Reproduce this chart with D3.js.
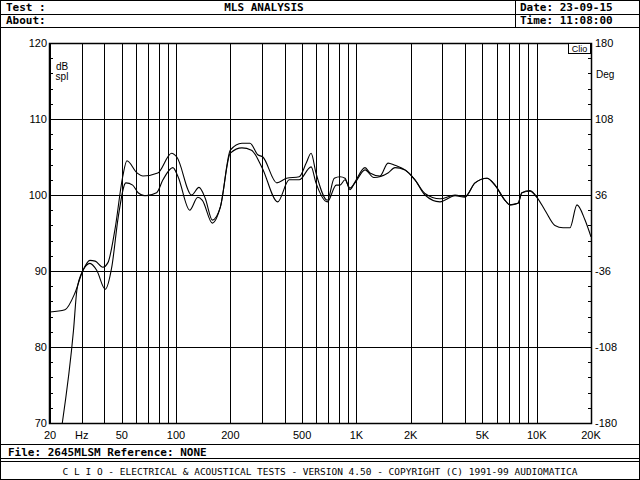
<!DOCTYPE html>
<html><head><meta charset="utf-8">
<script src="https://cdn.jsdelivr.net/npm/d3@7"></script>
<style>body{margin:0;background:#fff}</style>
</head><body><svg id="c" width="640" height="480"></svg>
<script>
const freqsA=[20,24.2,27.5,30.5,33.3,35.6,39.3,41.9,45.8,50.6,53.4,60.8,65.5,79.2,94.5,101,122,134,145,159,176,200,232,257,284,303,362,410,482,527,561,597,690,754,811,865,921,982,1117,1189,1352,1497,1637,1860,2113,2400,2908,3524,4000,4550,5300,5870,6670,7110,7870,8280,9180,10020,11110,12620,13990,15290,16720,18530,20000];
const dbA=[84.6,84.9,87.1,90.1,91.4,91.3,90.5,91.1,95.4,102.4,104.5,102.9,102.5,102.9,105.5,105,100,101,99.6,96.7,98.4,105.9,106.8,106.8,105.3,105,101.6,102.2,102.4,104.2,105.5,102.9,99.3,102.2,102.4,102.2,100.7,101.7,103.6,102.9,102.5,104.2,103.9,103.3,102,100,99.1,99.9,99.7,101.6,102.2,101.3,99.3,98.7,98.9,100.3,100.5,99.7,98,96,95.7,95.7,98.7,96.7,94.5];
const freqsB=[23.4,27,28.2,30.5,33.3,36.3,40.5,44,47.8,52.7,57.5,61.6,67.3,78,84.6,96,102.6,119,132,140,159,176,200,232,262,300,366,424,482,561,597,690,773,811,865,921,982,1117,1250,1497,1637,1860,2113,2400,2908,3524,4000,4550,5300,5870,6670,7110,7870,8280,9180,10020];
const dbB=[70,82.2,87.5,90.1,91,90.1,87.6,90.5,97.1,101.6,101.3,100.3,99.9,100.3,102,103.6,102.4,98,99.7,99.3,96.3,98.4,105.5,106.2,105.9,103.6,99.1,102,102,103.7,101.6,99.1,101.3,101.3,102,100.9,101.6,103.3,102.3,102.9,103.6,103.3,102,100.2,99.5,100,99.8,101.6,102.2,101.3,99.3,98.7,98.9,100.3,100.6,99.7];
const xTickVals=[20,30,50,100,200,500,1000,2000,5000,10000,20000];
const xTickLabels=["20","Hz","50","100","200","500","1K","2K","5K","10K","20K"];
const gridFreqs=[20,30,40,50,60,70,80,90,100,200,300,400,500,600,700,800,900,1000,2000,3000,4000,5000,6000,7000,8000,9000,10000,20000];
const dbTicks=[120,110,100,90,80,70];
const degTicks=[180,108,36,-36,-108,-180];

const svg=d3.select("#c");
const x=d3.scaleLog().domain([20,20000]).range([50,591]);
const y=d3.scaleLinear().domain([70,120]).range([423,43]);
const yd=d3.scaleLinear().domain([-180,180]).range([423,43]);
const mono="DejaVu Sans Mono, monospace", sf="Liberation Sans, sans-serif";

svg.append("rect").attr("x",0.5).attr("y",0.5).attr("width",639).attr("height",479).attr("fill","none").attr("stroke","#000");
const ln=(x1,y1,x2,y2)=>svg.append("line").attr("x1",x1).attr("y1",y1).attr("x2",x2).attr("y2",y2).attr("stroke","#000");
ln(0,14.5,640,14.5);ln(0,27.5,640,27.5);ln(515.5,0,515.5,27);
ln(0,444.5,640,444.5);ln(0,458.5,640,458.5);ln(0,461.5,640,461.5);
const t=(tx,ty,s,anchor,size,w)=>svg.append("text").attr("x",tx).attr("y",ty).attr("text-anchor",anchor||"start").style("font-family",mono).style("font-size",(size||11)+"px").style("font-weight",w||"bold").text(s);
t(6,11,"Test :");t(264,11,"MLS ANALYSIS","middle");t(520,11,"Date: 23-09-15");
t(6,24,"About:");t(520,24,"Time: 11:08:00");
t(8,456,"File: 2645MLSM Reference: NONE");
t(320,475,"C L I O  -  ELECTRICAL & ACOUSTICAL TESTS  -  VERSION 4.50  -  COPYRIGHT (C) 1991-99 AUDIOMATICA","middle",9.5,"normal");

const g=svg.append("g");
g.selectAll(".v").data(gridFreqs).join("line").attr("x1",d=>Math.round(x(d))+0.5).attr("x2",d=>Math.round(x(d))+0.5).attr("y1",43).attr("y2",423).attr("stroke","#000");
g.selectAll(".h").data(dbTicks).join("line").attr("x1",50).attr("x2",591).attr("y1",d=>Math.round(y(d))+0.5).attr("y2",d=>Math.round(y(d))+0.5).attr("stroke","#000");
g.append("rect").attr("x",49.5).attr("y",43.5).attr("width",542).attr("height",380).attr("fill","none").attr("stroke","#000").attr("stroke-width",1.5);
const minor=d3.range(70,121,2);
g.selectAll(".ml").data(minor).join("line").attr("x1",50).attr("x2",53).attr("y1",d=>Math.round(y(d))+0.5).attr("y2",d=>Math.round(y(d))+0.5).attr("stroke","#000");
g.selectAll(".mr").data(minor).join("line").attr("x1",588).attr("x2",591).attr("y1",d=>Math.round(y(d))+0.5).attr("y2",d=>Math.round(y(d))+0.5).attr("stroke","#000");

const lab=(sel,size)=>sel.style("font-family",sf).style("font-size",size+"px");
lab(svg.selectAll(".yl").data(dbTicks).join("text").attr("x",47).attr("y",d=>y(d)+4).attr("text-anchor","end").text(d=>d),11);
lab(svg.selectAll(".yr").data(degTicks).join("text").attr("x",595).attr("y",d=>yd(d)+4).text(d=>d),11);
lab(svg.selectAll(".xl").data(xTickVals).join("text").attr("x",d=>x(d)).attr("y",439).attr("text-anchor","middle").text((d,i)=>xTickLabels[i]),11);
lab(svg.append("text").attr("x",62).attr("y",70).attr("text-anchor","middle").text("dB"),10);
lab(svg.append("text").attr("x",62).attr("y",80).attr("text-anchor","middle").text("spl"),10);
lab(svg.append("text").attr("x",596).attr("y",78).text("Deg"),10);
svg.append("rect").attr("x",568.5).attr("y",43.5).attr("width",22).attr("height",10).attr("fill","#fff").attr("stroke","#000");
lab(svg.append("text").attr("x",579.5).attr("y",52).attr("text-anchor","middle").text("Clio"),9);

const line=d3.line().x(d=>x(d[0])).y(d=>y(d[1])).curve(d3.curveMonotoneX);
svg.append("path").attr("d",line(d3.zip(freqsA,dbA))).attr("fill","none").attr("stroke","#000").attr("stroke-width",1.1);
svg.append("path").attr("d",line(d3.zip(freqsB,dbB))).attr("fill","none").attr("stroke","#000").attr("stroke-width",1.1);
</script></body></html>
